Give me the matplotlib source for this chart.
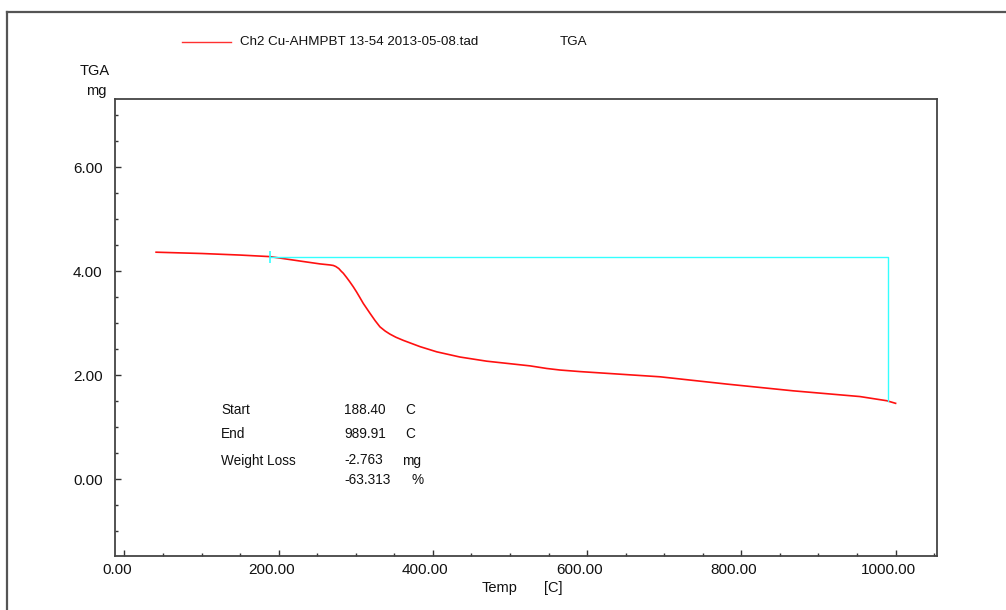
import matplotlib.pyplot as plt
from matplotlib.lines import Line2D
from matplotlib.ticker import MultipleLocator, FormatStrFormatter
from matplotlib.transforms import ScaledTranslation

plt.rcParams['font.family'] = ['Liberation Sans', 'DejaVu Sans']

# TGA curve
temp = [41, 100, 150, 188.7, 230, 253.5, 266.5, 270.8, 274, 278, 281, 283.8, 288, 292,
        296.7, 301, 305, 309.7, 318.4, 325, 331.3, 338, 344.3, 352, 361.6, 383.2,
        404.9, 435, 469.7, 525.9, 547.5, 564.8, 590.7, 694.5, 781, 867.3, 953.8,
        988.5, 1000]
weight = [4.365, 4.34, 4.31, 4.28, 4.19, 4.14, 4.12, 4.11, 4.09, 4.05, 4.00, 3.96, 3.88, 3.80,
          3.70, 3.60, 3.50, 3.38, 3.19, 3.05, 2.93, 2.85, 2.79, 2.73, 2.67, 2.55,
          2.45, 2.35, 2.27, 2.18, 2.13, 2.10, 2.07, 1.97, 1.83, 1.70, 1.59,
          1.51, 1.46]

start_t = 188.40
end_t = 989.91
w_start = 4.275
loss_mg = -2.763
loss_pct = -63.313
legend_name = 'Ch2 Cu-AHMPBT 13-54 2013-05-08.tad'

W, H = 1006, 610
fig = plt.figure(figsize=(W / 100, H / 100), dpi=100)
ax = fig.add_axes([115 / W, 1 - 556 / H, (937 - 115) / W, (556 - 99) / H])

def px(x, y):
    return x / W, 1 - y / H

# outer frame (top and left only visible)
fig.add_artist(Line2D([7 / W, 1], [1 - 12 / H, 1 - 12 / H], color='#555555', lw=1.6))
fig.add_artist(Line2D([7 / W, 7 / W], [0, 1 - 12 / H], color='#555555', lw=1.6))

ax.plot(temp, weight, color='#ff1010', lw=1.2)
ax.plot([start_t, end_t, end_t], [w_start, w_start, w_start + loss_mg], color='#33ffff', lw=1.0)
ax.plot([start_t], [w_start], marker='|', color='#33ffff', markersize=8, mew=1.2)

ax.set_xlim(-12.3, 1053.7)
ax.set_ylim(-1.475, 7.31)
ax.xaxis.set_major_locator(MultipleLocator(200))
ax.xaxis.set_minor_locator(MultipleLocator(50))
ax.yaxis.set_major_locator(MultipleLocator(2))
ax.yaxis.set_minor_locator(MultipleLocator(0.5))
ax.xaxis.set_major_formatter(FormatStrFormatter('%.2f'))
ax.yaxis.set_major_formatter(FormatStrFormatter('%.2f'))
ax.tick_params(which='both', direction='in', color='#333333', width=1)
ax.tick_params(which='major', length=4, labelsize=11, labelcolor='#111111')
ax.tick_params(axis='x', which='major', pad=5)
ax.tick_params(axis='y', which='major', pad=9)
ax.tick_params(which='minor', length=2.5)
for s in ax.spines.values():
    s.set_color('#444444')
    s.set_linewidth(1.3)

# x tick labels sit a little left of their ticks in the original
shift = ScaledTranslation(-0.075, 0, fig.dpi_scale_trans)
for lab in ax.get_xticklabels():
    lab.set_transform(lab.get_transform() + shift)

tc = '#111111'
fig.text(*px(95, 71), 'TGA', ha='center', va='center', fontsize=10.5, color=tc)
fig.text(*px(96, 91), 'mg', ha='center', va='center', fontsize=10.5, color=tc)
fig.text(*px(482, 588), 'Temp', ha='left', va='center', fontsize=10.5, color=tc)
fig.text(*px(544, 588), '[C]', ha='left', va='center', fontsize=10.5, color=tc)

# legend header
fig.add_artist(Line2D([182 / W, 231 / W], [1 - 42 / H, 1 - 42 / H], color='#ff3030', lw=1.0))
fig.text(*px(240, 42), legend_name, ha='left', va='center', fontsize=9.6, color=tc)
fig.text(*px(560, 42), 'TGA', ha='left', va='center', fontsize=9.6, color=tc)

# result block
rows = [('Start', '%.2f' % start_t, 'C', 410.5),
        ('End', '%.2f' % end_t, 'C', 434.5),
        ('Weight Loss', '%.3f' % loss_mg, 'mg', 460.5),
        ('', '%.3f' % loss_pct, '%', 480.5)]
unit_x = {'C': 405, 'mg': 402, '%': 412}
for name, val, unit, y in rows:
    fig.text(*px(221, y), name, ha='left', va='center', fontsize=9.8, color=tc)
    fig.text(*px(344, y), val, ha='left', va='center', fontsize=9.8, color=tc)
    fig.text(*px(unit_x[unit], y), unit, ha='left', va='center', fontsize=9.8, color=tc)

fig.savefig('out.png', dpi=100)
